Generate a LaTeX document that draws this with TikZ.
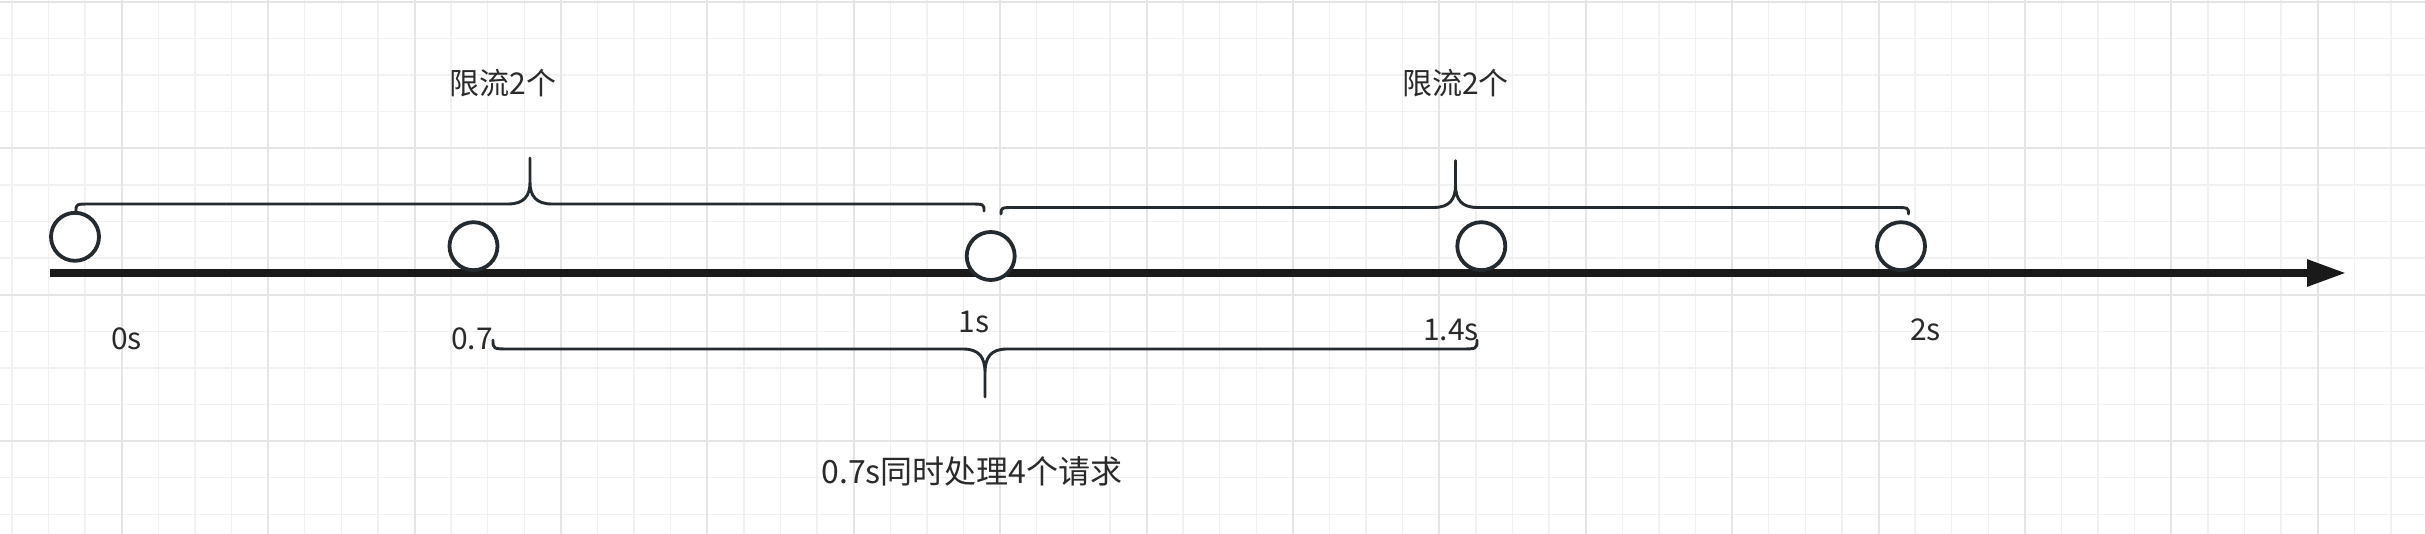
\documentclass[tikz,border=0pt]{standalone}
\usepackage{fontspec}
\setmainfont{Noto Sans CJK SC}
\usetikzlibrary{arrows.meta}
\definecolor{gridminor}{HTML}{F1F1F1}
\definecolor{gridmajor}{HTML}{E5E5E5}
\definecolor{ink}{HTML}{232A30}
\definecolor{axisc}{HTML}{1A1A1A}
\definecolor{txt}{HTML}{2A2A2A}
\tikzset{
  minorline/.style={draw=gridminor, line width=0.7pt},
  majorline/.style={draw=gridmajor, line width=1pt},
  axisline/.style={draw=axisc, line width=3.6pt, -{Triangle[length=19.4pt,width=12.7pt]}},
  dot/.style={circle, draw=ink, fill=white, line width=1.9pt, minimum size=24pt, inner sep=0pt},
  bracket/.style={draw=ink, line width=1.45pt, line join=round, line cap=round},
  lbl/.style={text=txt, font=\fontsize{15pt}{18pt}\selectfont, inner sep=0pt, anchor=base},
  biglbl/.style={text=txt, font=\fontsize{16pt}{19pt}\selectfont, inner sep=0pt, anchor=base}
}
\begin{document}
\begin{tikzpicture}[x=0.5pt,y=-0.5pt]
\useasboundingbox (0,0) rectangle (2425,534);
\fill[white] (0,0) rectangle (2425,534);
% grid
\foreach \i in {-3,...,62} \draw[minorline] ({121.7+36.6*\i},0) -- ++(0,534);
\foreach \j in {-4,...,10} \draw[minorline] (0,{148.3+36.6*\j}) -- ++(2425,0);
\foreach \i in {0,...,15} \draw[majorline] ({121.7+146.4*\i},0) -- ++(0,534);
\foreach \j in {-1,...,2} \draw[majorline] (0,{148.3+146.4*\j}) -- ++(2425,0);
% axis
\coordinate (axs) at (50,273);
\coordinate (axe) at (2346,273);
\draw[axisline] (axs) -- (axe);
% requests
\node[dot] (c1) at (75,236.8) {};
\node[dot] (c2) at (473.5,246.2) {};
\node[dot] (c3) at (990.7,256) {};
\node[dot] (c4) at (1481.3,246.2) {};
\node[dot] (c5) at (1901,246.2) {};
% brace 1
\coordinate (b1l) at (76,211);
\coordinate (b1t) at (530,158);
\coordinate (b1r) at (984,211);
\draw[bracket] (b1l) .. controls (76,204) .. (91,204) -- (508,204)
  .. controls (524,204) and (530,196) .. (530,182) -- (b1t) -- (530,182)
  .. controls (530,196) and (536,204) .. (552,204) -- (969,204)
  .. controls (984,204) .. (b1r);
% brace 2
\coordinate (b2l) at (1001,214);
\coordinate (b2t) at (1455.5,160.7);
\coordinate (b2r) at (1908.5,214);
\draw[bracket] (b2l) .. controls (1001,207.5) .. (1016,207.5) -- (1433.5,207.5)
  .. controls (1449.5,207.5) and (1455.5,199.5) .. (1455.5,185) -- (b2t) -- (1455.5,185)
  .. controls (1455.5,199.5) and (1461.5,207.5) .. (1477.5,207.5) -- (1893.5,207.5)
  .. controls (1908.5,207.5) .. (b2r);
% brace 3
\coordinate (b3l) at (493,340);
\coordinate (b3t) at (985,397);
\coordinate (b3r) at (1477,340);
\draw[bracket] (b3l) .. controls (493,349) .. (510,349) -- (963,349)
  .. controls (979,349) and (985,357) .. (985,373) -- (b3t) -- (985,373)
  .. controls (985,357) and (991,349) .. (1007,349) -- (1460,349)
  .. controls (1477,349) .. (b3r);
% labels
\node[lbl] (t0) at (126.5,350) {0s};
\node[lbl] (t07) at (472,350) {0.7};
\node[lbl] (t1) at (974,332) {1s};
\node[lbl] (t14) at (1451,340) {1.4s};
\node[lbl] (t2) at (1925.5,340) {2s};
\node[lbl] (lim1) at (503,95) {限流2个};
\node[lbl] (lim2) at (1455.5,95) {限流2个};
\node[biglbl] (bot) at (972,483) {0.7s同时处理4个请求};
\end{tikzpicture}
\end{document}
